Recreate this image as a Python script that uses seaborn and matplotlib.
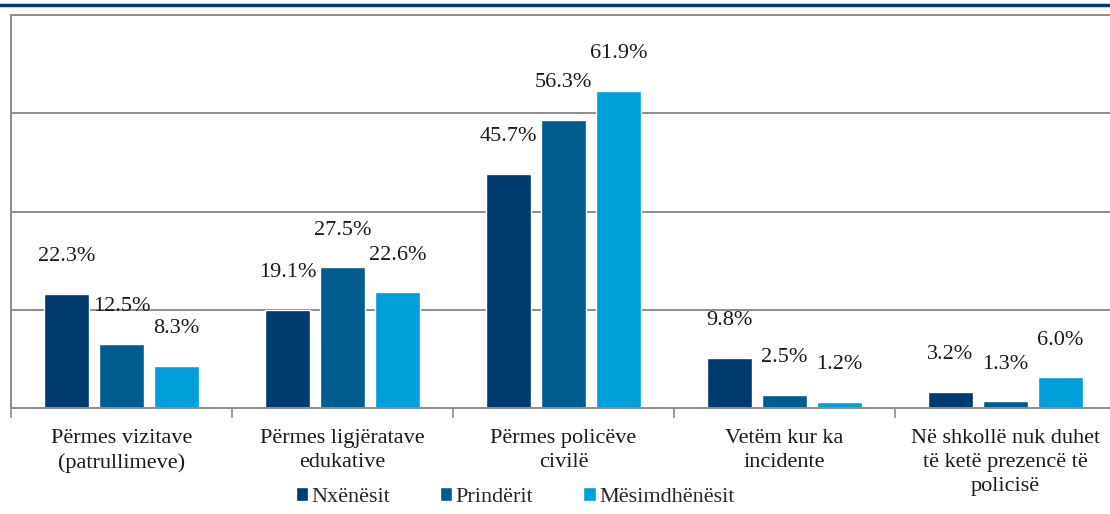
import matplotlib
matplotlib.use("Agg")
import matplotlib.pyplot as plt
import seaborn as sns
import pandas as pd
import numpy as np
from matplotlib.lines import Line2D

# Data
categories = ["Përmes vizitave\n(patrullimeve)",
              "Përmes ligjëratave\nedukative",
              "Përmes policëve\ncivilë",
              "Vetëm kur ka\nincidente",
              "Në shkollë nuk duhet\ntë ketë prezencë të\npolicisë"]
groups = ["Nxënësit", "Prindërit", "Mësimdhënësit"]
nxenesit = [22.3, 19.1, 45.7, 9.8, 3.2]
prinderit = [12.5, 27.5, 56.3, 2.5, 1.3]
mesimdhenesit = [8.3, 22.6, 61.9, 1.2, 6.0]

colors = ["#003b6f", "#005b8e", "#009fda"]

df = pd.DataFrame({
    "Kategoria": categories * 3,
    "Grupi": np.repeat(groups, len(categories)),
    "Vlera": nxenesit + prinderit + mesimdhenesit,
})

sns.set_style("white")
plt.rcParams["font.family"] = ["Liberation Serif", "DejaVu Serif"]

fig = plt.figure(figsize=(11.1, 5.14), dpi=100)
ax = fig.add_axes([0.0099, 0.2062, 0.9955, 0.7646])

sns.barplot(data=df, x="Kategoria", y="Vlera", hue="Grupi",
            palette=colors, width=0.747, gap=0.18, saturation=1,
            ax=ax, legend=True)

for cont in ax.containers:
    ax.bar_label(cont, labels=[f"{v:.1f}%" for v in cont.datavalues],
                 padding=20, fontsize=16, color="#1a1a1a")

step = 19.2
ax.set_ylim(0, 4 * step)
ax.set_yticks([step, 2 * step, 3 * step])
ax.yaxis.grid(True, color="#8c8c8c", linewidth=1.4)
ax.set_axisbelow(True)
ax.set_yticklabels([])
ax.tick_params(axis="y", length=0)
ax.set_xlim(-0.5, 4.5)

for side in ["left", "top", "right", "bottom"]:
    ax.spines[side].set_color("#8c8c8c")
    ax.spines[side].set_linewidth(1.4)

ax.set_xticks(np.arange(-0.5, 5, 1), minor=True)
ax.tick_params(axis="x", which="minor", length=7.5, width=1.2,
               color="#8c8c8c", direction="out", bottom=True)
ax.tick_params(axis="x", which="major", length=0, pad=15,
               labelsize=16, labelcolor="#1a1a1a")
for t in ax.get_xticklabels():
    t.set_linespacing(1.38)
ax.set_xlabel("")
ax.set_ylabel("")

handles, labels = ax.get_legend_handles_labels()
ax.get_legend().remove()
fig.legend(handles, labels, loc="center", bbox_to_anchor=(0.464, 0.033),
           ncol=3, frameon=False, fontsize=16, handlelength=0.55,
           handleheight=0.55, handletextpad=0.15, columnspacing=2.25)

fig.add_artist(Line2D([0, 1], [1 - 5 / 514, 1 - 5 / 514],
                      color="#003b6f", linewidth=2.5,
                      transform=fig.transFigure))

fig.savefig("out.png", dpi=100)
